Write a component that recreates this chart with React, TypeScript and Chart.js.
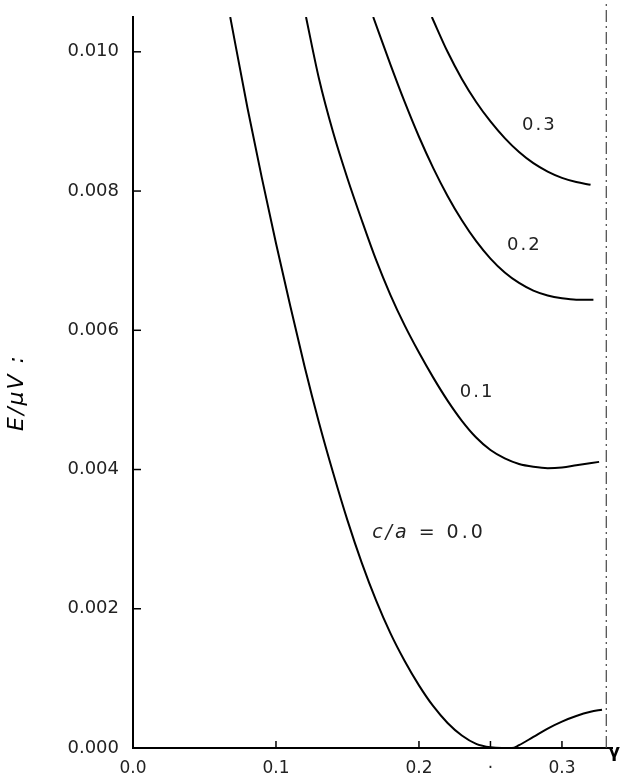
import React, { useEffect, useRef } from "react";
import { Chart, registerables } from "chart.js";

Chart.register(...registerables);

// c/a = 0.0
const GAMMA_00 = [0.068, 0.08, 0.09, 0.1, 0.11, 0.12, 0.13, 0.14, 0.15, 0.16, 0.17, 0.18, 0.19, 0.2, 0.21, 0.22, 0.23, 0.24, 0.25, 0.258, 0.265, 0.27, 0.28, 0.29, 0.3, 0.31, 0.32, 0.328];
const E_00 = [0.0105, 0.0092, 0.0082, 0.00725, 0.00635, 0.00548, 0.00468, 0.00395, 0.00327, 0.00266, 0.00212, 0.00165, 0.00125, 0.0009, 0.0006, 0.00036, 0.00018, 0.00006, 0.00001, 0.0, 0.0, 0.00004, 0.00016, 0.00028, 0.00038, 0.00046, 0.00052, 0.00055];

// c/a = 0.1
const GAMMA_01 = [0.121, 0.13, 0.14, 0.15, 0.16, 0.17, 0.18, 0.19, 0.2, 0.21, 0.22, 0.23, 0.24, 0.25, 0.26, 0.27, 0.28, 0.29, 0.3, 0.31, 0.326];
const E_01 = [0.0105, 0.00962, 0.00884, 0.00818, 0.00758, 0.00701, 0.00651, 0.00607, 0.00568, 0.00532, 0.00499, 0.0047, 0.00446, 0.00428, 0.00416, 0.00408, 0.00404, 0.00402, 0.00403, 0.00406, 0.00411];

// c/a = 0.2
const GAMMA_02 = [0.168, 0.18, 0.19, 0.2, 0.21, 0.22, 0.23, 0.24, 0.25, 0.26, 0.27, 0.28, 0.29, 0.3, 0.31, 0.322];
const E_02 = [0.0105, 0.00982, 0.00928, 0.00878, 0.00833, 0.00793, 0.00758, 0.00728, 0.00703, 0.00683, 0.00668, 0.00657, 0.0065, 0.00646, 0.00644, 0.00644];

// c/a = 0.3
const GAMMA_03 = [0.209, 0.22, 0.23, 0.24, 0.25, 0.26, 0.27, 0.28, 0.29, 0.3, 0.31, 0.32];
const E_03 = [0.0105, 0.01, 0.00961, 0.00928, 0.009, 0.00876, 0.00856, 0.0084, 0.00828, 0.00819, 0.00813, 0.00809];

// limit line (dash-dot)
const LIMIT_GAMMA = 0.331;
const LIMIT_E = [0, 0.0107];

const X_TICKS = [0, 0.1, 0.2, 0.25, 0.3];
const X_TICK_LABELS = ["0.0", "0.1", "0.2", "·", "0.3"];
const Y_TICKS = [0, 0.002, 0.004, 0.006, 0.008, 0.01];
const Y_TICK_LABELS = ["0.000", "0.002", "0.004", "0.006", "0.008", "0.010"];

const CURVE_LABELS = [
  { text: "0.3", x: 0.2842, y: 0.00895 },
  { text: "0.2", x: 0.2737, y: 0.00722 },
  { text: "0.1", x: 0.2407, y: 0.00511 },
];
const MAIN_LABEL = { italic: "c/a", rest: " = 0.0", x: 0.207, y: 0.00309 };

const X_TITLE = "γ";
const Y_TITLE = "E/μV :";

const zip = (xs: number[], ys: number[]) => xs.map((x, i) => ({ x, y: ys[i] }));

const FONT = "'DejaVu Sans', sans-serif";

const decorPlugin = {
  id: "decor",
  afterDraw(chart: any) {
    const { ctx, chartArea, scales } = chart;
    const xs = scales.x;
    const ys = scales.y;
    ctx.save();
    ctx.strokeStyle = "#000";
    ctx.lineWidth = 1.5;
    // inward ticks
    Y_TICKS.forEach((v) => {
      if (v === 0) return;
      const py = ys.getPixelForValue(v);
      ctx.beginPath();
      ctx.moveTo(chartArea.left, py);
      ctx.lineTo(chartArea.left + 8, py);
      ctx.stroke();
    });
    X_TICKS.forEach((v) => {
      if (v === 0) return;
      const px = xs.getPixelForValue(v);
      ctx.beginPath();
      ctx.moveTo(px, chartArea.bottom);
      ctx.lineTo(px, chartArea.bottom - 7);
      ctx.stroke();
    });
    // curve labels
    ctx.fillStyle = "#222";
    ctx.textAlign = "center";
    ctx.textBaseline = "middle";
    try { ctx.letterSpacing = "2px"; } catch (e) {}
    ctx.font = `18px ${FONT}`;
    CURVE_LABELS.forEach((l) => {
      ctx.fillText(l.text, xs.getPixelForValue(l.x), ys.getPixelForValue(l.y));
    });
    // main label
    const cx = xs.getPixelForValue(MAIN_LABEL.x);
    const cy = ys.getPixelForValue(MAIN_LABEL.y);
    try { ctx.letterSpacing = "3px"; } catch (e) {}
    ctx.font = `italic 19px ${FONT}`;
    const w1 = ctx.measureText(MAIN_LABEL.italic).width;
    ctx.font = `19px ${FONT}`;
    const w2 = ctx.measureText(MAIN_LABEL.rest).width;
    const start = cx - (w1 + w2) / 2;
    ctx.textAlign = "left";
    ctx.font = `italic 19px ${FONT}`;
    ctx.fillText(MAIN_LABEL.italic, start, cy);
    ctx.font = `19px ${FONT}`;
    ctx.fillText(MAIN_LABEL.rest, start + w1, cy);
    // x title
    try { ctx.letterSpacing = "0px"; } catch (e) {}
    ctx.fillStyle = "#000";
    ctx.font = `bold 18px ${FONT}`;
    ctx.textAlign = "center";
    ctx.fillText(X_TITLE, chartArea.right + 2, chartArea.bottom + 4);
    // y title
    try { ctx.letterSpacing = "2px"; } catch (e) {}
    ctx.translate(17, (chartArea.top + chartArea.bottom) / 2 + 10);
    ctx.rotate(-Math.PI / 2);
    ctx.font = `italic 22px ${FONT}`;
    ctx.fillText(Y_TITLE, 0, 0);
    ctx.restore();
  },
};

export default function App() {
  const ref = useRef<HTMLCanvasElement | null>(null);
  useEffect(() => {
    if (!ref.current) return;
    const line = (data: any[]) => ({
      data,
      borderColor: "#000",
      borderWidth: 2,
      pointRadius: 0,
      fill: false,
      cubicInterpolationMode: "monotone" as const,
    });
    const chart = new Chart(ref.current, {
      type: "line",
      data: {
        datasets: [
          line(zip(GAMMA_00, E_00)),
          line(zip(GAMMA_01, E_01)),
          line(zip(GAMMA_02, E_02)),
          line(zip(GAMMA_03, E_03)),
          {
            data: LIMIT_E.map((y) => ({ x: LIMIT_GAMMA, y })),
            borderColor: "#444",
            borderWidth: 1.2,
            borderDash: [12, 4, 2, 4],
            pointRadius: 0,
            fill: false,
            clip: false as any,
          },
        ],
      },
      options: {
        animation: false,
        responsive: true,
        maintainAspectRatio: false,
        layout: { padding: { left: 0, right: 9, top: 17, bottom: 0 } },
        plugins: { legend: { display: false }, tooltip: { enabled: false } },
        scales: {
          x: {
            type: "linear",
            min: 0,
            max: 0.335,
            grid: { display: true, drawOnChartArea: false, drawTicks: false },
            border: { display: true, color: "#000", width: 2 },
            afterBuildTicks: (s: any) => {
              s.ticks = X_TICKS.map((v) => ({ value: v }));
            },
            afterFit: (s: any) => {
              s.height = 32;
              s.paddingLeft = 0;
              s.paddingRight = 0;
            },
            ticks: {
              padding: 10,
              color: "#222",
              font: { family: FONT, size: 17 },
              maxRotation: 0,
              autoSkip: false,
              callback: (v: any) => {
                const i = X_TICKS.indexOf(Number(v));
                return i >= 0 ? X_TICK_LABELS[i] : "";
              },
            },
          },
          y: {
            type: "linear",
            min: 0,
            max: 0.0105,
            grid: { display: true, drawOnChartArea: false, drawTicks: false },
            border: { display: true, color: "#000", width: 2 },
            afterBuildTicks: (s: any) => {
              s.ticks = Y_TICKS.map((v) => ({ value: v }));
            },
            afterFit: (s: any) => {
              s.width = 133;
              s.paddingTop = 0;
              s.paddingBottom = 0;
            },
            ticks: {
              padding: 14,
              color: "#222",
              font: { family: FONT, size: 18 },
              autoSkip: false,
              callback: (v: any) => {
                const i = Y_TICKS.findIndex((t) => Math.abs(t - Number(v)) < 1e-9);
                return i >= 0 ? Y_TICK_LABELS[i] : "";
              },
            },
          },
        },
      },
      plugins: [decorPlugin],
    });
    return () => chart.destroy();
  }, []);
  return (
    <div style={{ position: "absolute", left: 0, top: 0, width: 621, height: 780, background: "#fff" }}>
      <canvas ref={ref} />
    </div>
  );
}
